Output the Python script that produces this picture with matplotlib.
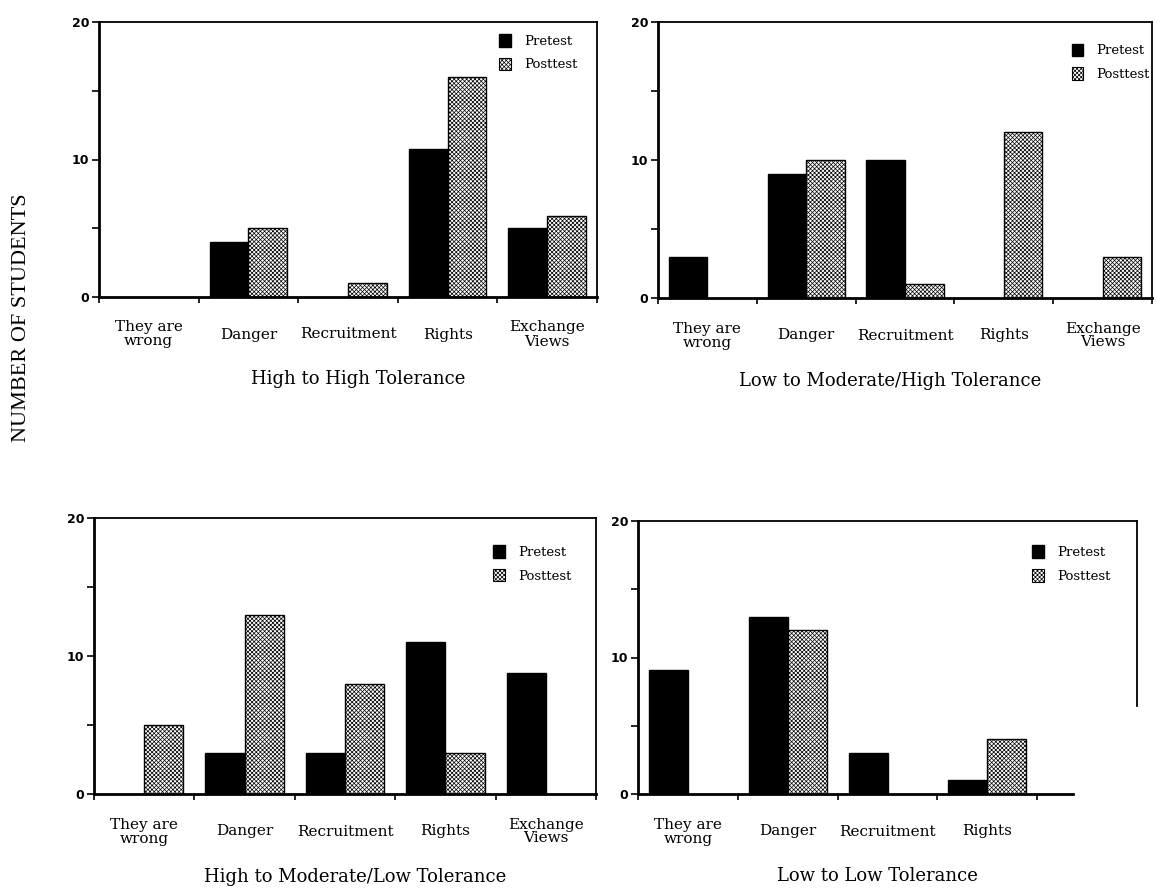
import matplotlib
matplotlib.use("Agg")
import matplotlib.pyplot as plt
from matplotlib.patches import Patch
import numpy as np

plt.rcParams['hatch.linewidth'] = 0.5

categories = ["They are\nwrong", "Danger", "Recruitment", "Rights", "Exchange\nViews"]
categories_ll = ["They are\nwrong", "Danger", "Recruitment", "Rights", ""]

titles = ["High to High Tolerance", "Low to Moderate/High Tolerance",
          "High to Moderate/Low Tolerance", "Low to Low Tolerance"]

hh_pre = [0, 4, 0, 10.8, 5]
hh_post = [0, 5, 1, 16, 5.9]

lmh_pre = [3, 9, 10, 0, 0]
lmh_post = [0, 10, 1, 12, 3]

hml_pre = [0, 3, 3, 11, 8.8]
hml_post = [5, 13, 8, 3, 0]

ll_pre = [9.1, 13, 3, 1, 0]
ll_post = [0, 12, 0, 4, 0]

yticks = [0, 5, 10, 15, 20]
ytick_labels = ["0", "", "10", "", "20"]

W, H = 1158, 890
fig = plt.figure(figsize=(W / 100, H / 100), dpi=100)

def frac(l, r, top, bot):
    return [l / W, 1 - bot / H, (r - l) / W, (bot - top) / H]

rects = [frac(99, 597, 22, 297), frac(658, 1152, 22, 298),
         frac(94, 596, 518, 794), frac(638, 1137, 521, 794)]
datasets = [(hh_pre, hh_post, categories), (lmh_pre, lmh_post, categories),
            (hml_pre, hml_post, categories), (ll_pre, ll_post, categories_ll)]
legend_anchor = [(0.985, 1.0), (1.02, 0.965), (0.975, 0.945), (0.97, 0.955)]
title_x = [0.52, 0.47, 0.52, 0.48]

serif = "DejaVu Serif"
bw = 0.39
pre_style = dict(facecolor="black", edgecolor="black")
post_style = dict(facecolor="white", edgecolor="black", hatch="xxxxxxxx")

for i, (rect, (pre, post, cats)) in enumerate(zip(rects, datasets)):
    ax = fig.add_axes(rect)
    x = np.arange(len(cats)) + 0.5
    ax.bar(x - bw / 2, pre, width=bw, linewidth=[1 if v > 0 else 0 for v in pre],
           **pre_style)
    ax.bar(x + bw / 2, post, width=bw, linewidth=[1 if v > 0 else 0 for v in post],
           **post_style)
    ax.set_xlim(0, 5)
    ax.set_ylim(0, 20)
    ax.set_yticks(yticks)
    ax.set_yticklabels(ytick_labels, fontsize=9, fontweight="bold",
                       family="DejaVu Sans")
    major = np.arange(0, 5) if i == 3 else np.arange(0, 6)
    ax.set_xticks(major)
    ax.set_xticklabels([""] * len(major))
    ax.set_xticks(x, minor=True)
    ax.set_xticklabels(cats, minor=True, fontsize=11, family=serif,
                       linespacing=1.0)
    ax.tick_params(axis="x", which="minor", length=0, pad=27)
    ax.tick_params(axis="x", which="major", length=4, width=1.2, direction="out")
    ax.tick_params(axis="y", which="major", length=5, width=1.2, direction="out", pad=2)
    for lab in ax.get_xticklabels(minor=True):
        lab.set_verticalalignment("center")
    for s in ax.spines.values():
        s.set_linewidth(1.3)
    ax.spines["left"].set_linewidth(2)
    ax.spines["bottom"].set_linewidth(2)
    if i == 3:
        ax.spines["bottom"].set_bounds(0, 4.36)
        ax.spines["right"].set_bounds(6.45, 20)
    handles = [Patch(linewidth=1, label="Pretest", **pre_style),
               Patch(linewidth=0.8, label="Posttest", **post_style)]
    ax.legend(handles=handles, loc="upper right", bbox_to_anchor=legend_anchor[i],
              frameon=False, handlelength=0.9, handleheight=1.1,
              handletextpad=1.0, labelspacing=0.75,
              prop={"family": serif, "size": 9.5})
    ax.text(title_x[i], -0.30, titles[i], transform=ax.transAxes, ha="center",
            va="center", fontsize=13, family=serif)

fig.text(22 / W, 1 - 318 / H, "NUMBER OF STUDENTS", rotation=90, ha="center",
         va="center", fontsize=16, family="Liberation Serif")

fig.savefig("out.png", dpi=100)
